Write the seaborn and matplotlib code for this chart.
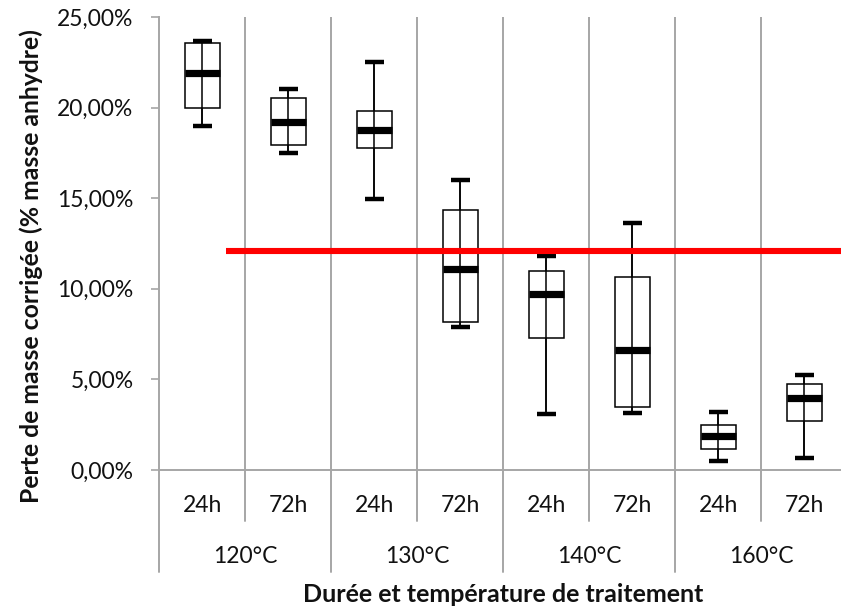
import matplotlib
matplotlib.use("Agg")
import matplotlib.pyplot as plt
import matplotlib.transforms as mtransforms
from matplotlib.ticker import FuncFormatter, MultipleLocator
import seaborn as sns
import pandas as pd

# ---- data (% masse anhydre) ----
temperatures = ["120°C", "130°C", "140°C", "160°C"]
durees = ["24h", "72h"]
stat_min = [18.97, 17.48, 14.93, 7.89, 3.08, 3.14, 0.48, 0.64]
stat_q1 = [19.99, 17.94, 17.77, 8.18, 7.30, 3.49, 1.16, 2.68]
stat_med = [21.90, 19.23, 18.79, 11.09, 9.70, 6.65, 1.85, 3.99]
stat_q3 = [23.54, 20.53, 19.82, 14.37, 10.99, 10.66, 2.46, 4.77]
stat_max = [23.69, 21.04, 22.52, 15.98, 11.79, 13.65, 3.18, 5.23]
seuil = 12.11

groupes = [f"{t} {d}" for t in temperatures for d in durees]
rows = []
for i, g in enumerate(groupes):
    for v in (stat_min[i], stat_q1[i], stat_med[i], stat_q3[i], stat_max[i]):
        rows.append({"groupe": g, "perte": v})
df = pd.DataFrame(rows)

sns.set_theme(style="white")
plt.rcParams["font.family"] = ["Lato", "DejaVu Sans"]

fig = plt.figure(figsize=(8.41, 6.10), dpi=100)
ax = fig.add_axes([159.3 / 841, 140 / 610, 688 / 841, 453 / 610])

grey = "#a6a6a6"
txt = "#111111"

sns.boxplot(
    data=df, x="groupe", y="perte", order=groupes, ax=ax,
    whis=(0, 100), width=0.41, color="white", linecolor="black",
    linewidth=1.1,
    boxprops=dict(facecolor="white", edgecolor="black", linewidth=1.1),
    medianprops=dict(color="black", linewidth=5.2, solid_capstyle="butt"),
    whiskerprops=dict(color="black", linewidth=1.1),
    capprops=dict(color="black", linewidth=3.2, solid_capstyle="butt"),
    capwidths=0.22,
    showfliers=False,
)

# vertical line through each box (Excel style)
ax.vlines(range(len(groupes)), stat_min, stat_max, colors="black",
          linewidth=1.1, zorder=2.05)

# threshold line
ax.axhline(seuil, xmin=0.097, xmax=1.0, color="#ff0000", linewidth=4.4,
           zorder=4, solid_capstyle="butt")

ax.set_xlim(-0.5, len(groupes) - 0.5)
ax.set_ylim(0, 25)
ax.yaxis.set_major_locator(MultipleLocator(5))
ax.yaxis.set_major_formatter(FuncFormatter(lambda v, p: f"{v:.2f}".replace(".", ",") + "%"))

# category separators inside plot
for b in range(len(groupes) - 1):
    ax.axvline(b + 0.5, color=grey, linewidth=1.4, zorder=0.5)

for s in ["top", "right"]:
    ax.spines[s].set_visible(False)
for s in ["left", "bottom"]:
    ax.spines[s].set_color(grey)
    ax.spines[s].set_linewidth(1.4)

ax.tick_params(axis="y", direction="out", length=5.5, width=1.2, color=grey,
               pad=13, labelsize=16.5, labelcolor=txt, left=True)
ax.tick_params(axis="x", length=0, pad=25.7, labelsize=16.5, labelcolor=txt)
ax.set_xticks(range(len(groupes)))
ax.set_xticklabels(durees * len(temperatures))
for lbl in ax.get_xticklabels():
    lbl.set_va("center")

# multi-level axis lines below the x axis
trans = mtransforms.blended_transform_factory(ax.transData, ax.transAxes)
for b in range(len(groupes) + 1):
    x = b - 0.5
    bottom = -0.2252 if b % 2 == 0 else -0.1126
    ax.plot([x, x], [0, bottom], color=grey, linewidth=1.4, transform=trans,
            clip_on=False)
for k, t in enumerate(temperatures):
    ax.text(2 * k + 0.5, -0.1909, t, transform=trans, ha="center", va="center",
            fontsize=16.5, color=txt)

ax.set_xlabel("Durée et température de traitement", fontsize=18,
              fontweight="bold", color=txt, labelpad=0)
ax.xaxis.set_label_coords((503 - 159.3) / 688, -(595 - 470) / 453)
ax.xaxis.label.set_va("center")
ax.set_ylabel("Perte de masse corrigée (% masse anhydre)", fontsize=17.8,
              fontweight="bold", color=txt)
ax.yaxis.set_label_coords((31 - 159.3) / 688, (470 - 266) / 453)
ax.yaxis.label.set_va("center")

fig.savefig("out.png", dpi=100)
